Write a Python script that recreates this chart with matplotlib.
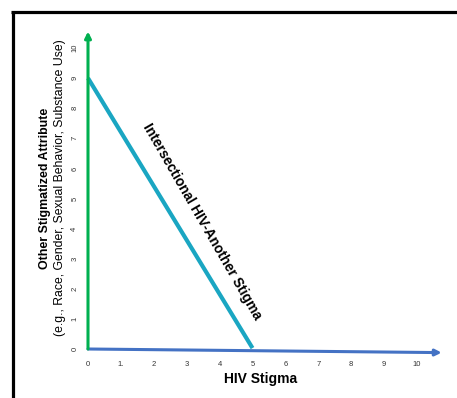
import matplotlib
matplotlib.use("Agg")
import matplotlib.pyplot as plt
from matplotlib.lines import Line2D

plt.rcParams['font.family'] = ['Liberation Sans', 'DejaVu Sans']

# data
x_ticks = [0, 1, 2, 3, 4, 5, 6, 7, 8, 9, 10]
x_tick_labels = ["0", "1.", "2", "3", "4", "5", "6", "7", "8", "9", "10"]
y_ticks = [0, 1, 2, 3, 4, 5, 6, 7, 8, 9, 10]
y_tick_labels = [str(v) for v in y_ticks]
intersect_x = [0, 5]
intersect_y = [9, 0.03]
hiv_axis_x = [0, 10.75]
hiv_axis_y = [0.0, -0.12]
other_axis_x = [0, 0]
other_axis_y = [0.0, 10.55]

W, H = 457, 398
fig = plt.figure(figsize=(W / 100, H / 100), dpi=100)

# frame lines (top and left)
fig.add_artist(Line2D([12.5 / W, 12.5 / W], [0, (H - 11.5) / H], color='black', lw=2.3,
                      transform=fig.transFigure, solid_capstyle='butt'))
fig.add_artist(Line2D([11 / W, 1], [(H - 11.5) / H, (H - 11.5) / H], color='black', lw=2.3,
                      transform=fig.transFigure, solid_capstyle='butt'))

x0, x1 = 88, 417
ytop, ybot = 48, 349
ax = fig.add_axes([x0 / W, (H - ybot) / H, (x1 - x0) / W, (ybot - ytop) / H])
ax.set_xlim(0, 10)
ax.set_ylim(0, 10)
for s in ax.spines.values():
    s.set_visible(False)
ax.set_facecolor('none')

ax.set_xticks(x_ticks)
ax.set_xticklabels(x_tick_labels, fontsize=5.5, color='#333333')
ax.set_yticks(y_ticks)
ax.set_yticklabels(y_tick_labels, fontsize=5.5, color='#333333', rotation=90, va='center')
ax.tick_params(length=0)
ax.tick_params(axis='x', pad=8.5)
ax.tick_params(axis='y', pad=7)

# axes arrows
ax.annotate('', xy=(hiv_axis_x[1], hiv_axis_y[1]), xytext=(hiv_axis_x[0], hiv_axis_y[0]),
            arrowprops=dict(arrowstyle='-|>', color='#4472C4', lw=2.2, mutation_scale=9,
                            shrinkA=0, shrinkB=0), annotation_clip=False)
ax.annotate('', xy=(other_axis_x[1], other_axis_y[1]), xytext=(other_axis_x[0], other_axis_y[0]),
            arrowprops=dict(arrowstyle='-|>', color='#00B050', lw=2.2, mutation_scale=9,
                            shrinkA=0, shrinkB=0), annotation_clip=False)

ax.plot(intersect_x, intersect_y, color='#1AA6C2', lw=3, solid_capstyle='butt', clip_on=False)

ax.text(3.48, 4.22, 'Intersectional HIV-Another Stigma', rotation=-60, fontsize=10,
        fontweight='bold', ha='center', va='center', rotation_mode='anchor')

fig.text(261 / W, (H - 379) / H, 'HIV Stigma', fontsize=10, fontweight='bold',
         ha='center', va='center')
fig.text(45 / W, (H - 188) / H, 'Other Stigmatized Attribute', fontsize=8.9, fontweight='bold',
         ha='center', va='center', rotation=90)
fig.text(60 / W, (H - 188) / H, '(e.g., Race, Gender, Sexual Behavior, Substance Use)',
         fontsize=8.8, ha='center', va='center', rotation=90)

fig.savefig('out.png', dpi=100)
